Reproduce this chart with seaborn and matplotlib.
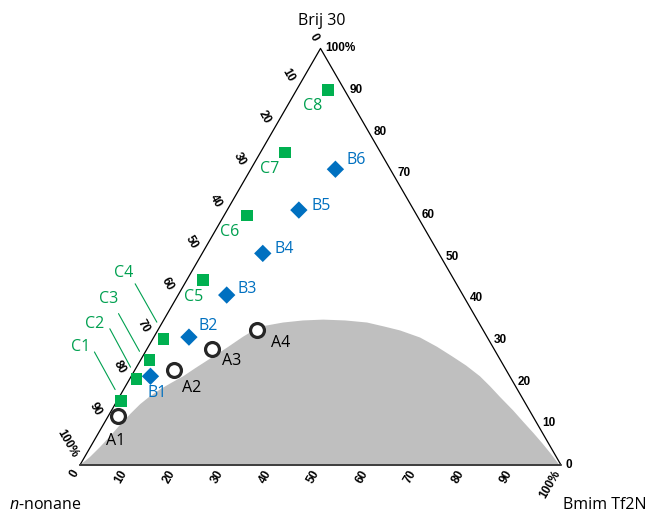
import numpy as np
import pandas as pd
import matplotlib
matplotlib.use("Agg")
import matplotlib.pyplot as plt
import seaborn as sns

# Compositions in wt% : Bmim Tf2N and Brij 30 (n-nonane makes up the rest)
a_labels = ["A1", "A2", "A3", "A4"]
a_bmim = [2.1, 8.1, 13.4, 20.6]
a_brij = [11.8, 22.9, 27.9, 32.5]

b_labels = ["B1", "B2", "B3", "B4", "B5", "B6"]
b_bmim = [4.0, 7.3, 10.1, 12.6, 14.9, 17.6]
b_brij = [21.3, 30.7, 40.8, 50.8, 61.2, 71.0]

c_labels = ["C1", "C2", "C3", "C4", "C5", "C6", "C7", "C8"]
c_bmim = [0.9, 1.4, 1.8, 2.2, 3.4, 4.7, 5.2, 6.6]
c_brij = [15.3, 20.7, 25.3, 30.3, 44.4, 59.9, 75.0, 90.0]

# Two-phase region boundary (Bmim Tf2N %, Brij 30 %)
bnd_bmim = [0.0, 1.1, 2.0, 2.8, 3.5, 4.3, 5.2, 6.3, 7.6, 9.2, 10.8, 12.3,
            14.5, 16.5, 18.5, 20.8, 25.1, 29.0, 33.1, 37.8, 42.6, 46.8,
            50.4, 55.4, 60.0, 64.3, 68.3, 72.5, 75.8, 79.2, 83.5, 86.8,
            90.4, 93.4, 96.3, 99.1, 99.6]
bnd_brij = [0.0, 1.9, 4.3, 6.9, 9.6, 12.2, 14.6, 16.5, 18.2, 19.8, 21.3,
            23.2, 25.8, 28.2, 30.8, 33.2, 34.2, 34.7, 34.9, 34.7, 34.2,
            33.2, 32.3, 30.6, 28.4, 26.1, 23.9, 21.3, 18.9, 16.3, 13.1,
            10.5, 7.7, 5.3, 2.9, 0.5, 0.0]

tick_values = list(range(0, 101, 10))

vertex_names = ["n-nonane", "Bmim Tf2N", "Brij 30"]

SQ3 = np.sqrt(3) / 2


def to_xy(bmim, brij):
    m = np.asarray(bmim, float) / 100
    b = np.asarray(brij, float) / 100
    return m + b / 2, b * SQ3


sns.set_theme(style="white")
plt.rcParams["font.family"] = ["Open Sans", "DejaVu Sans"]
plt.rcParams["text.color"] = "black"
plt.rcParams["mathtext.fontset"] = "custom"
plt.rcParams["mathtext.it"] = "Open Sans:italic"
plt.rcParams["mathtext.rm"] = "Open Sans"

W, H = 647, 512
fig = plt.figure(figsize=(W / 100, H / 100), dpi=100)
ax = fig.add_axes([0, 0, 1, 1])
SCALE = 481.0          # pixels per unit triangle side
X0, Y0 = 80.0, 465.0   # pixel position of the n-nonane corner
ax.set_xlim(-X0 / SCALE, (W - X0) / SCALE)
ax.set_ylim(-(H - Y0) / SCALE, Y0 / SCALE)
ax.axis("off")
PX = 1 / SCALE

# two-phase region
bx, by = to_xy(bnd_bmim, bnd_brij)
ax.fill(bx, by, color="#BFBFBF", lw=0, zorder=1)

# triangle frame
ax.plot([0, 1, 0.5, 0], [0, 0, SQ3, 0], color="black", lw=0.9, zorder=2)
ax.plot([0, 1], [0, 0], color="#404040", lw=1.4, zorder=2)

tick_font = dict(family=["Liberation Sans", "DejaVu Sans"], fontsize=8.5,
                 fontweight="bold", color="black")
for v in tick_values:
    txt = "100%" if v == 100 else str(v)
    # bottom: Bmim Tf2N
    x, y = to_xy(v, 0)
    d = 7 * PX
    ax.text(x - 0.5 * d, y - SQ3 * d, txt, rotation=60,
            rotation_mode="anchor", ha="right", va="center", **tick_font)
    # left: n-nonane
    x, y = to_xy(0, 100 - v)
    d = 10 * PX
    ax.text(x - 0.5 * d, y + SQ3 * d, txt, rotation=-60,
            rotation_mode="anchor", ha="right", va="center", **tick_font)
    # right: Brij 30
    x, y = to_xy(100 - v, v)
    ax.text(x + 5 * PX, y, txt, ha="left", va="center", **tick_font)

green = "#00B050"
green_txt = "#00A050"
blue = "#0070C0"

dfa = pd.DataFrame({"label": a_labels, "bmim": a_bmim, "brij": a_brij})
dfb = pd.DataFrame({"label": b_labels, "bmim": b_bmim, "brij": b_brij})
dfc = pd.DataFrame({"label": c_labels, "bmim": c_bmim, "brij": c_brij})
for df in (dfa, dfb, dfc):
    df["x"], df["y"] = to_xy(df["bmim"], df["brij"])

sns.scatterplot(data=dfc, x="x", y="y", marker="s", s=72, color=green,
                edgecolor="none", linewidth=0, ax=ax, zorder=4, legend=False)
sns.scatterplot(data=dfb, x="x", y="y", marker="D", s=78, color=blue,
                edgecolor="none", linewidth=0, ax=ax, zorder=4, legend=False)
sns.scatterplot(data=dfa, x="x", y="y", marker="o", s=100, facecolor="white",
                edgecolor="#262626", linewidth=2.3, ax=ax, zorder=5,
                legend=False)

# label offsets in pixels (right, down)
a_off = [(-3, 25), (18, 18), (20, 12), (23, 13)]
b_off = [(7, 17), (19, -11), (20, -6), (21, -4), (22, -4), (21, -9)]
c_off = [(-41, -54), (-42, -55), (-41, -61), (-40, -66),
         (-10, 17), (-17, 17), (-16, 16), (-16, 16)]
# leader lines for the crowded labels (start, end) in pixels
c_lead = [((-26.7, -49.3), (-6, -11.7)), ((-26.7, -50), (-6, -11.6)),
          ((-31, -46), (-10, -8.3)), ((-28.3, -55), (-6.6, -16.6))]

lab_font = dict(fontsize=11.5, ha="center", va="center", zorder=6)
for (_, r), (dx, dy) in zip(dfa.iterrows(), a_off):
    ax.text(r.x + dx * PX, r.y - dy * PX, r.label, color="black", **lab_font)
for (_, r), (dx, dy) in zip(dfb.iterrows(), b_off):
    ax.text(r.x + dx * PX, r.y - dy * PX, r.label, color=blue, **lab_font)
for (_, r), (dx, dy) in zip(dfc.iterrows(), c_off):
    ax.text(r.x + dx * PX, r.y - dy * PX, r.label, color=green_txt, **lab_font)
for (_, r), ((sx, sy), (ex, ey)) in zip(dfc.iterrows(), c_lead):
    ax.plot([r.x + sx * PX, r.x + ex * PX], [r.y - sy * PX, r.y - ey * PX],
            color=green_txt, lw=0.8, zorder=3)

# corner names
fig.text(45 / W, 1 - 505 / H, r"$\mathit{n}$-nonane", ha="center",
         va="center", fontsize=11.5, color="black")
fig.text(605 / W, 1 - 505 / H, vertex_names[1], ha="center", va="center",
         fontsize=11.5, color="black")
fig.text(322 / W, 1 - 21 / H, vertex_names[2], ha="center", va="center",
         fontsize=11.5, color="black")

fig.savefig("out.png", dpi=100)
